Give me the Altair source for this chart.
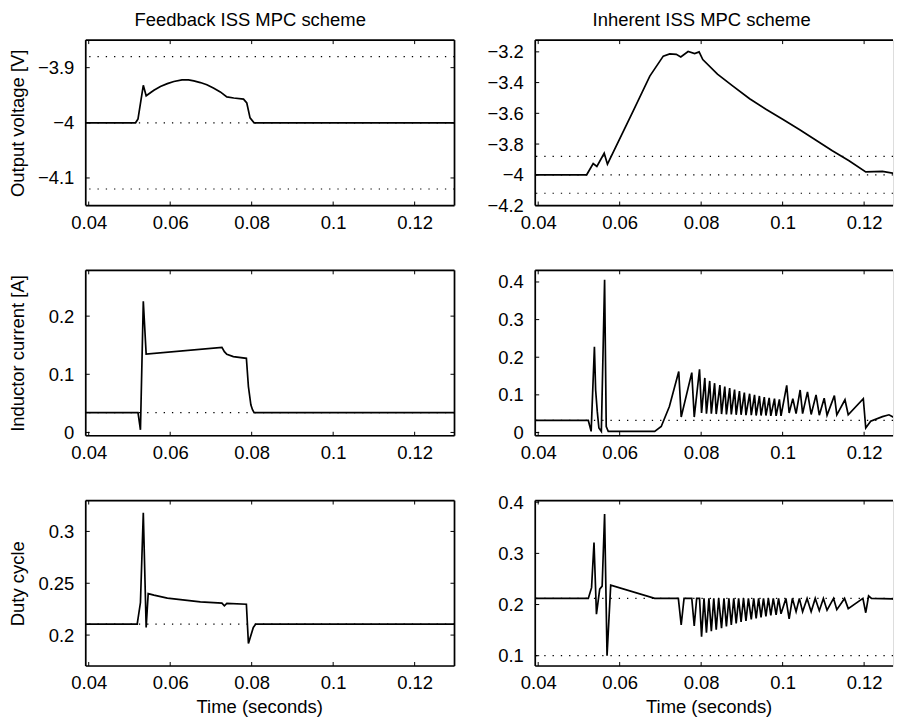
import altair as alt
import pandas as pd

FONT = "Liberation Sans"
FS = 18.5

# ---------------- shared axis settings ----------------
X_TICKS = [0.04, 0.06, 0.08, 0.1, 0.12]
X_DOMAIN_LEFT = [0.03927, 0.12978]
X_DOMAIN_RIGHT = [0.03927, 0.12709]

# ---------------- Feedback ISS MPC scheme ----------------
fb_v_t = [0.0393, 0.0515, 0.0521, 0.0534, 0.0541, 0.0560, 0.0576, 0.0593, 0.0609, 0.0629,
          0.0645, 0.0658, 0.0674, 0.0690, 0.0706, 0.0723, 0.0739, 0.0756, 0.0780, 0.0788,
          0.0796, 0.0806, 0.1300]
fb_v_y = [-4.0, -4.0, -3.993, -3.932, -3.951, -3.941, -3.934, -3.929, -3.925, -3.922,
          -3.922, -3.924, -3.927, -3.931, -3.937, -3.944, -3.953, -3.955, -3.957, -3.964,
          -3.991, -4.0, -4.0]

fb_i_t = [0.0393, 0.0521, 0.0527, 0.0534, 0.0541, 0.0727, 0.0733, 0.0739, 0.0755, 0.0787,
          0.0792, 0.0798, 0.0802, 0.0806, 0.1300]
fb_i_y = [0.034, 0.034, 0.0046, 0.2257, 0.1347, 0.1463, 0.1389, 0.1343, 0.1303, 0.1275,
          0.0788, 0.0475, 0.039, 0.034, 0.034]

fb_d_t = [0.0393, 0.0519, 0.0527, 0.0534, 0.0541, 0.0546, 0.0560, 0.0593, 0.0674, 0.0727,
          0.0733, 0.0739, 0.0787, 0.0792, 0.0804, 0.0810, 0.1300]
fb_d_y = [0.2106, 0.2106, 0.2314, 0.318, 0.2074, 0.240, 0.2385, 0.2356, 0.232, 0.2308,
          0.2282, 0.2305, 0.2298, 0.192, 0.2074, 0.2106, 0.2106]

# ---------------- Inherent ISS MPC scheme ----------------
in_v_t = [0.0393, 0.0519, 0.0535, 0.0544, 0.0562, 0.0570, 0.0633, 0.0674, 0.0707, 0.0723,
          0.0739, 0.0750, 0.0768, 0.0784, 0.0795, 0.0804, 0.0840, 0.0878, 0.0919, 0.0960,
          0.1000, 0.1041, 0.1082, 0.1122, 0.1163, 0.1204, 0.1245, 0.1292]
in_v_y = [-4.0, -4.0, -3.927, -3.946, -3.860, -3.931, -3.585, -3.358, -3.228, -3.213,
          -3.216, -3.233, -3.198, -3.211, -3.200, -3.250, -3.345, -3.423, -3.505, -3.575,
          -3.639, -3.705, -3.775, -3.844, -3.909, -3.981, -3.978, -3.998]

in_i_t = [0.0393, 0.0523, 0.0530, 0.0538, 0.0541, 0.0545, 0.0549, 0.0555, 0.0563, 0.0567,
          0.0572, 0.0686, 0.0702, 0.0722, 0.0745, 0.0751, 0.0777, 0.0783, 0.0796, 0.0801,
          0.0809, 0.0813, 0.0821, 0.0825, 0.0833, 0.0837, 0.0846, 0.0850, 0.0858, 0.0862,
          0.0870, 0.0874, 0.0882, 0.0886, 0.0894, 0.0898, 0.0906, 0.0910, 0.0919, 0.0923,
          0.0931, 0.0935, 0.0943, 0.0947, 0.0955, 0.0959, 0.0967, 0.0971, 0.0980, 0.0984,
          0.0992, 0.0996,
          0.1010, 0.1016, 0.1025, 0.1033, 0.1043, 0.1049, 0.1061, 0.1070, 0.1082, 0.1090,
          0.1102, 0.1109, 0.1127, 0.1133, 0.1153, 0.1161, 0.1198, 0.1204, 0.1216, 0.1245,
          0.1261, 0.1273, 0.1281, 0.1292]
in_i_y = [0.032, 0.032, 0.003, 0.228, 0.113, 0.056, 0.012, 0.003, 0.406, 0.016,
          0.003, 0.003, 0.016, 0.069, 0.162, 0.041, 0.159, 0.041, 0.168, 0.052,
          0.145, 0.050, 0.137, 0.050, 0.131, 0.049, 0.126, 0.049, 0.122, 0.048,
          0.118, 0.048, 0.114, 0.047, 0.110, 0.047, 0.106, 0.046, 0.103, 0.046,
          0.100, 0.045, 0.097, 0.045, 0.094, 0.045, 0.092, 0.044, 0.090, 0.044,
          0.088, 0.044,
          0.125, 0.052, 0.090, 0.050, 0.113, 0.050, 0.108, 0.048, 0.100, 0.046,
          0.091, 0.046, 0.098, 0.047, 0.087, 0.047, 0.090, 0.012, 0.030, 0.042,
          0.047, 0.040, 0.033, 0.032]

in_d_t = [0.0393, 0.0523, 0.0531, 0.0537, 0.0543, 0.0551, 0.0557, 0.0563, 0.0569, 0.0578,
          0.0686, 0.0744, 0.0751, 0.0758, 0.0777, 0.0783, 0.0789, 0.0796, 0.0801,
          0.0807, 0.0813, 0.0819, 0.0825, 0.0831, 0.0837, 0.0843, 0.0850, 0.0856, 0.0862,
          0.0868, 0.0874, 0.0880, 0.0886, 0.0892, 0.0898, 0.0904, 0.0910, 0.0916, 0.0923,
          0.0929, 0.0935, 0.0941, 0.0947, 0.0953, 0.0959, 0.0965, 0.0971, 0.0977, 0.0984,
          0.0990, 0.0996,
          0.1008, 0.1016, 0.1024, 0.1033, 0.1041, 0.1049, 0.1060, 0.1070, 0.1080, 0.1090,
          0.1100, 0.1109, 0.1125, 0.1133, 0.1152, 0.1161, 0.1197, 0.1204, 0.1211, 0.1218,
          0.1270, 0.1277, 0.1285, 0.1292]
in_d_y = [0.212, 0.212, 0.233, 0.321, 0.181, 0.230, 0.236, 0.377, 0.100, 0.238,
          0.212, 0.212, 0.160, 0.212, 0.212, 0.158, 0.212, 0.212, 0.137,
          0.212, 0.145, 0.212, 0.148, 0.212, 0.151, 0.212, 0.154, 0.212, 0.157,
          0.212, 0.160, 0.212, 0.163, 0.212, 0.166, 0.212, 0.168, 0.212, 0.171,
          0.212, 0.173, 0.212, 0.175, 0.212, 0.177, 0.212, 0.179, 0.212, 0.180,
          0.212, 0.182,
          0.212, 0.172, 0.212, 0.186, 0.212, 0.186, 0.212, 0.186, 0.212, 0.188,
          0.212, 0.189, 0.212, 0.190, 0.212, 0.192, 0.212, 0.184, 0.217, 0.212,
          0.211, 0.208, 0.211, 0.212]

# reference (dotted) levels, y domains and y tick values
refs = {
    "fb_v": [-3.88, -4.0, -4.12], "in_v": [-3.88, -4.0, -4.12],
    "fb_i": [0.034], "in_i": [0.032],
    "fb_d": [0.2106], "in_d": [0.212, 0.1],
}
ydoms = {
    "fb_v": [-4.15, -3.85], "in_v": [-4.2, -3.1235],
    "fb_i": [-0.0057, 0.2788], "in_i": [-0.0087, 0.431],
    "fb_d": [0.1702, 0.3298], "in_d": [0.0799, 0.4033],
}
yticks = {
    "fb_v": [-4.1, -4.0, -3.9], "in_v": [-4.2, -4.0, -3.8, -3.6, -3.4, -3.2],
    "fb_i": [0.0, 0.1, 0.2], "in_i": [0.0, 0.1, 0.2, 0.3, 0.4],
    "fb_d": [0.2, 0.25, 0.3], "in_d": [0.1, 0.2, 0.3, 0.4],
}

W_L, W_R, H = 370, 359, 166
TICK = 4


def panel(t, y, key, xdom, width, ytitle=None, xtitle=None, title=None, title_dx=0, right_side=True):
    xs = alt.Scale(domain=xdom, nice=False, zero=False)
    ys = alt.Scale(domain=ydoms[key], nice=False, zero=False)

    xkw = dict(values=X_TICKS, format="~g", ticks=False, domain=False, grid=False,
               labelPadding=8, labelFontSize=FS, labelFont=FONT, labelColor="black")
    if xtitle:
        xkw.update(titleX=174, titleY=47, titleBaseline="alphabetic", titleAlign="center",
                   titleFont=FONT, titleFontSize=FS, titleFontWeight="normal", titleColor="black")
    ykw = dict(values=yticks[key], format="~g", ticks=False, domain=False, grid=False,
               labelPadding=12, labelFontSize=FS, labelFont=FONT, labelColor="black")
    if ytitle:
        ykw.update(titleX=-62, titleY=H / 2, titleAngle=270, titleBaseline="alphabetic",
                   titleAlign="center", titleFont=FONT, titleFontSize=FS,
                   titleFontWeight="normal", titleColor="black")

    df = pd.DataFrame({"t": t, "v": y})
    line = alt.Chart(df).mark_line(color="black", strokeWidth=1.7, clip=True).encode(
        x=alt.X("t:Q", scale=xs, axis=alt.Axis(**xkw), title=xtitle if xtitle else None),
        y=alt.Y("v:Q", scale=ys, axis=alt.Axis(**ykw), title=ytitle if ytitle else None),
    )
    ref = alt.Chart(pd.DataFrame({"r": refs[key]})).mark_rule(
        color="black", strokeWidth=1.2, strokeDash=[1.3, 7]
    ).encode(y=alt.Y("r:Q", scale=ys, axis=None))

    xt = pd.DataFrame({"tk": X_TICKS})
    yt = pd.DataFrame({"yk": yticks[key]})
    one = pd.DataFrame({"k": [0]})
    tick_style = dict(color="black", strokeWidth=1)
    frame_style = dict(color="black", strokeWidth=1.7)

    layers = [
        line,
        ref,
        alt.Chart(xt).mark_rule(**tick_style).encode(
            x=alt.X("tk:Q", scale=xs, axis=None), y=alt.value(H), y2=alt.value(H - TICK)),
        alt.Chart(xt).mark_rule(**tick_style).encode(
            x=alt.X("tk:Q", scale=xs, axis=None), y=alt.value(0), y2=alt.value(TICK)),
        alt.Chart(yt).mark_rule(**tick_style).encode(
            y=alt.Y("yk:Q", scale=ys, axis=None), x=alt.value(0), x2=alt.value(TICK)),
        alt.Chart(one).mark_rule(**frame_style).encode(
            x=alt.value(0), x2=alt.value(width), y=alt.value(0)),
        alt.Chart(one).mark_rule(**frame_style).encode(
            x=alt.value(0), x2=alt.value(width), y=alt.value(H)),
        alt.Chart(one).mark_rule(**frame_style).encode(
            x=alt.value(0), y=alt.value(0), y2=alt.value(H)),
    ]
    if right_side:
        layers += [
            alt.Chart(yt).mark_rule(**tick_style).encode(
                y=alt.Y("yk:Q", scale=ys, axis=None), x=alt.value(width - TICK), x2=alt.value(width)),
            alt.Chart(one).mark_rule(**frame_style).encode(
                x=alt.value(width), y=alt.value(0), y2=alt.value(H)),
        ]
    props = dict(width=width, height=H)
    if title:
        props["title"] = alt.TitleParams(text=title, font=FONT, fontSize=FS, fontWeight="normal",
                                         color="black", anchor="middle", dx=title_dx, offset=-5,
                                         baseline="alphabetic")
    return alt.layer(*layers).resolve_axis(x="independent", y="independent").properties(**props)


p1 = panel(fb_v_t, fb_v_y, "fb_v", X_DOMAIN_LEFT, W_L, ytitle="Output voltage [V]",
           title="Feedback ISS MPC scheme", title_dx=-20)
p2 = panel(in_v_t, in_v_y, "in_v", X_DOMAIN_RIGHT, W_R,
           title="Inherent ISS MPC scheme", title_dx=-12.5, right_side=False)
p3 = panel(fb_i_t, fb_i_y, "fb_i", X_DOMAIN_LEFT, W_L, ytitle="Inductor current [A]")
p4 = panel(in_i_t, in_i_y, "in_i", X_DOMAIN_RIGHT, W_R, right_side=False)
p5 = panel(fb_d_t, fb_d_y, "fb_d", X_DOMAIN_LEFT, W_L, ytitle="Duty cycle", xtitle="Time (seconds)")
p6 = panel(in_d_t, in_d_y, "in_d", X_DOMAIN_RIGHT, W_R, xtitle="Time (seconds)", right_side=False)

chart = alt.concat(
    p1, p2, p3, p4, p5, p6, columns=2,
    spacing={"row": 65, "column": 81}, bounds="flush", align="all",
).properties(
    padding={"left": 0, "top": 1, "right": 0, "bottom": 0}
).configure_view(stroke="transparent").configure(background="white")

chart.save("out.html", embed_options={"renderer": "svg", "actions": False})
